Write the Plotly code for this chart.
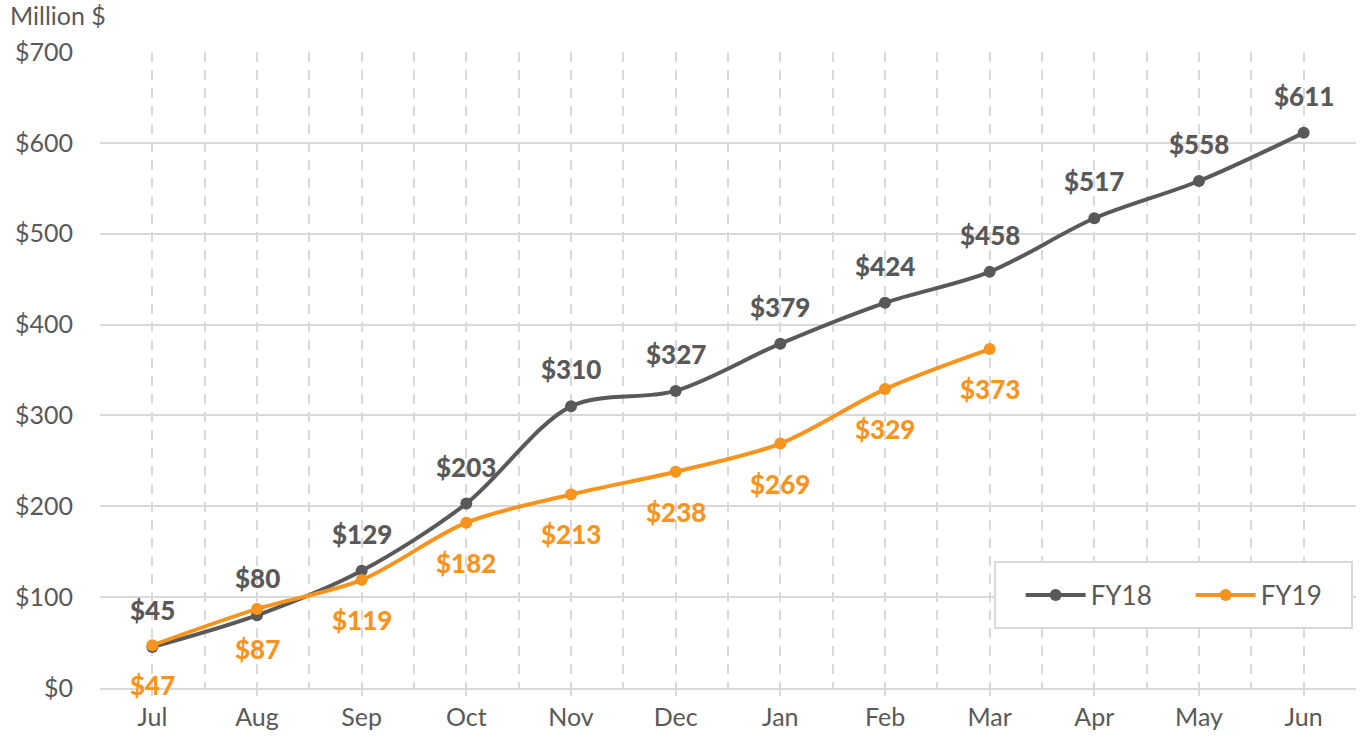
import plotly.graph_objects as go

months = ["Jul", "Aug", "Sep", "Oct", "Nov", "Dec", "Jan", "Feb", "Mar", "Apr", "May", "Jun"]
fy18 = [45, 80, 129, 203, 310, 327, 379, 424, 458, 517, 558, 611]
fy19 = [47, 87, 119, 182, 213, 238, 269, 329, 373]
y_ticks = [0, 100, 200, 300, 400, 500, 600, 700]
y_tick_labels = ["$" + str(v) for v in y_ticks]

GRAY = "#595959"
ORANGE = "#F7941D"
GRID = "#D9D9D9"
FONT = "Lato"

x18 = list(range(len(fy18)))
x19 = list(range(len(fy19)))

fig = go.Figure()
fig.add_trace(go.Scatter(
    x=x18, y=fy18, name="FY18", mode="lines+markers",
    line=dict(color=GRAY, width=4, shape="spline", smoothing=0.9),
    marker=dict(size=12, color=GRAY),
))
fig.add_trace(go.Scatter(
    x=x19, y=fy19, name="FY19", mode="lines+markers",
    line=dict(color=ORANGE, width=4, shape="spline", smoothing=0.9),
    marker=dict(size=12, color=ORANGE),
))

annotations = []
for xi, v in zip(x18, fy18):
    annotations.append(dict(x=xi, y=v, text="$" + str(v), showarrow=False,
                            yshift=37, font=dict(family=FONT, size=26, color=GRAY, weight=900)))
for xi, v in zip(x19, fy19):
    annotations.append(dict(x=xi, y=v, text="$" + str(v), showarrow=False,
                            yshift=-40, font=dict(family=FONT, size=26, color=ORANGE, weight=900)))

annotations.append(dict(x=0, xref="paper", xanchor="left", xshift=-92, y=1, yref="paper",
                        yanchor="bottom", yshift=20, text="Million $", showarrow=False,
                        font=dict(family=FONT, size=25, color=GRAY)))

fig.update_layout(
    width=1362, height=740,
    margin=dict(l=100, r=6, t=52, b=52, autoexpand=False),
    paper_bgcolor="white", plot_bgcolor="white",
    font=dict(family=FONT, color=GRAY, size=24),
    showlegend=True,
    legend=dict(
        orientation="h", x=0.733, xanchor="left", y=0.146, yanchor="middle",
        borderwidth=0, bgcolor="rgba(0,0,0,0)",
        font=dict(family=FONT, size=26, color=GRAY),
        entrywidth=95, itemwidth=60,
    ),
    shapes=[dict(type="rect", xref="paper", yref="paper",
                 x0=0.7126, x1=0.9968, y0=0.0943, y1=0.198,
                 line=dict(color=GRID, width=2), fillcolor="white", layer="above")],
    annotations=annotations,
    xaxis=dict(
        range=[-0.5, 11.5], tickvals=list(range(12)), ticktext=months,
        showgrid=True, gridcolor=GRID, gridwidth=2, griddash="10px,8px",
        minor=dict(tick0=-0.5, dtick=1, showgrid=True, gridcolor=GRID, gridwidth=2,
                   griddash="10px,8px"),
        ticks="outside", ticklen=6, tickcolor=GRID, tickwidth=2,
        showline=True, linecolor=GRID, linewidth=2,
        zeroline=False, tickfont=dict(family=FONT, size=25, color=GRAY),
    ),
    yaxis=dict(
        range=[0, 700], tickvals=y_ticks, ticktext=y_tick_labels,
        showgrid=True, gridcolor=GRID, gridwidth=2,
        zeroline=False, showline=False, ticks="",
        ticklabelstandoff=26,
        tickfont=dict(family=FONT, size=25, color=GRAY),
    ),
)

fig.write_html("out.html")
